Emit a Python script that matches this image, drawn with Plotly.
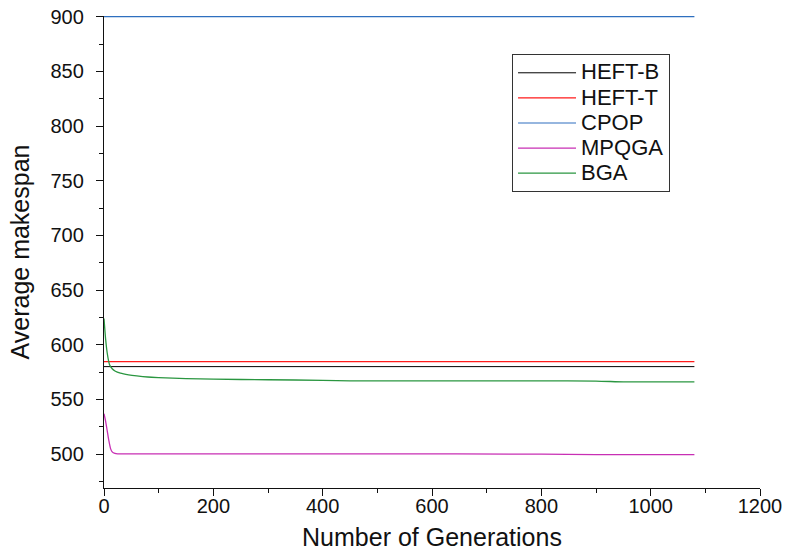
import plotly.graph_objects as go

# Convergence of average makespan over generations
gen_end = 1080
heft_b_value = 580
heft_t_value = 584.5
cpop_value = 900

bga_gens = [0, 3, 6, 10, 15, 20, 30, 45, 60, 80, 100, 150, 200, 300, 400,
            450, 600, 800, 900, 950, 1000, 1080]
bga_vals = [624, 605, 592, 582, 578, 576, 574, 572.5, 571.5, 570.5, 570,
            569, 568.5, 568, 567.5, 567, 567, 567, 566.8, 566, 566, 566]

mpqga_gens = [0, 3, 6, 9, 12, 15, 20, 25, 30, 100, 500, 800, 900, 1000, 1080]
mpqga_vals = [537, 530, 521, 512, 505, 502, 500.6, 500.2, 500.2, 500.2,
              500.2, 500, 499.6, 499.5, 499.5]

x_ticks = [0, 200, 400, 600, 800, 1000, 1200]
y_ticks = [500, 550, 600, 650, 700, 750, 800, 850, 900]


def legend_name(text):
    # larger glyphs inside a compact legend row
    return f"<span style='font-size:22px'>{text}</span>"


fig = go.Figure()
fig.add_trace(go.Scatter(x=[0, gen_end], y=[heft_b_value] * 2, mode="lines",
                         name=legend_name("HEFT-B"),
                         line=dict(color="#000000", width=1)))
fig.add_trace(go.Scatter(x=[0, gen_end], y=[heft_t_value] * 2, mode="lines",
                         name=legend_name("HEFT-T"),
                         line=dict(color="#ff1a1a", width=1.2)))
fig.add_trace(go.Scatter(x=[0, gen_end], y=[cpop_value] * 2, mode="lines",
                         name=legend_name("CPOP"),
                         line=dict(color="#2e6fbf", width=1.2)))
fig.add_trace(go.Scatter(x=mpqga_gens, y=mpqga_vals, mode="lines",
                         name=legend_name("MPQGA"),
                         line=dict(color="#c82fb4", width=1.3,
                                   shape="spline", smoothing=0.6)))
fig.add_trace(go.Scatter(x=bga_gens, y=bga_vals, mode="lines",
                         name=legend_name("BGA"),
                         line=dict(color="#2a9640", width=1.3,
                                   shape="spline", smoothing=0.6)))

font_family = "Liberation Sans, Arial, sans-serif"

axis_common = dict(
    showgrid=False, zeroline=False, automargin=False,
    showline=True, linecolor="#111111", linewidth=1.3,
    ticks="outside", ticklen=7, tickwidth=1.3, tickcolor="#111111",
    tickfont=dict(size=20),
)

fig.update_layout(
    width=785, height=551,
    margin=dict(l=104, r=25, t=16, b=63),
    paper_bgcolor="white", plot_bgcolor="white",
    font=dict(family=font_family, color="#111111"),
    showlegend=True,
    legend=dict(x=0.622, y=0.919, xanchor="left", yanchor="top",
                bordercolor="#333333", borderwidth=1, bgcolor="white",
                font=dict(size=17, family=font_family),
                itemwidth=58, tracegroupgap=0),
    xaxis=dict(range=[0, 1200], tickvals=x_ticks, ticklabelstandoff=-7,
               minor=dict(ticks="outside", ticklen=4, tickwidth=1.3,
                          tickcolor="#111111", dtick=100, showgrid=False),
               title=dict(text="Number of Generations", font=dict(size=25),
                          standoff=13),
               **axis_common),
    yaxis=dict(range=[469, 900.6], tickvals=y_ticks, ticklabelstandoff=8,
               minor=dict(ticks="outside", ticklen=4, tickwidth=1.3,
                          tickcolor="#111111", dtick=25, showgrid=False),
               title=dict(text="Average makespan", font=dict(size=25),
                          standoff=13),
               **axis_common),
)

fig.write_html("out.html")
